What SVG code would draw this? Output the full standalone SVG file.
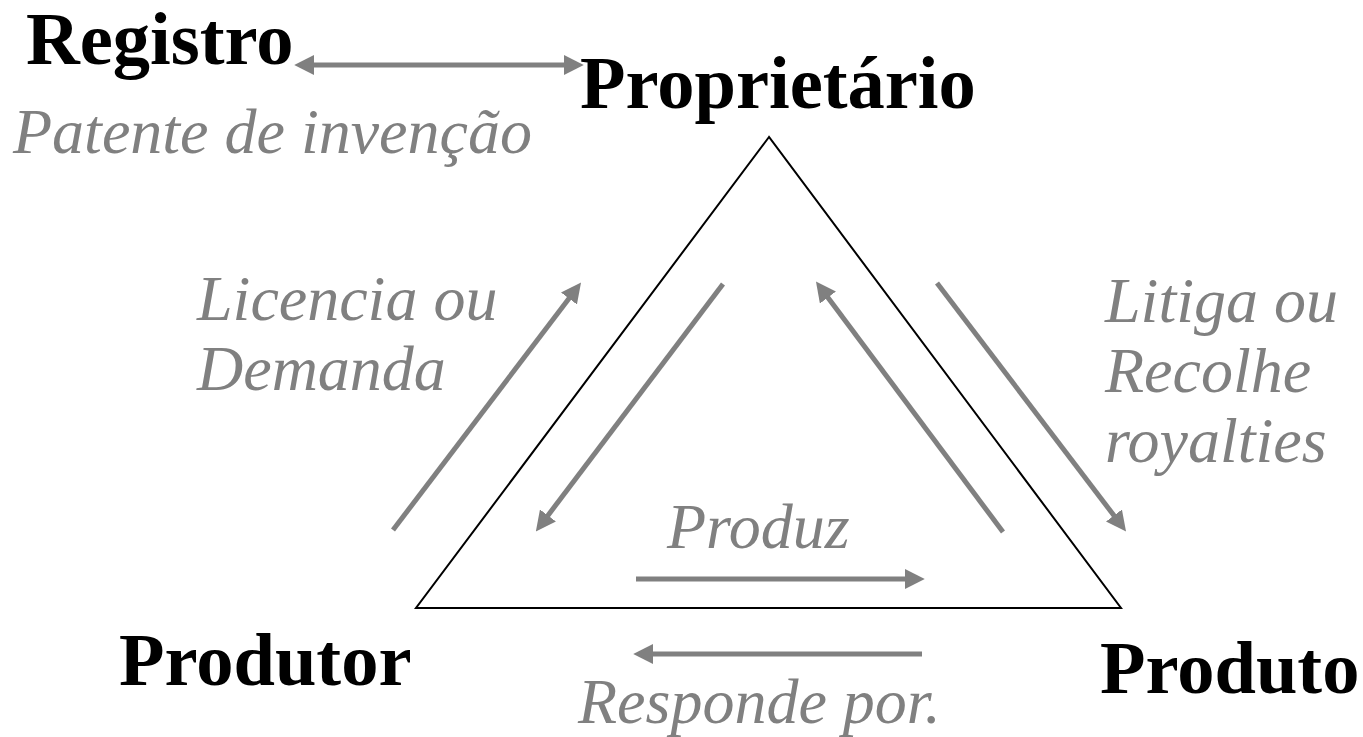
<svg xmlns="http://www.w3.org/2000/svg" width="1363" height="737" viewBox="0 0 1363 737">
  <style>
    .node { font-family: "Liberation Serif", "Times New Roman", serif; font-weight: bold; font-size: 74.5px; fill: #000; }
    .lbl { font-family: "Liberation Serif", "Times New Roman", serif; font-style: italic; font-size: 64px; fill: #808080; }
    .conn { stroke: #808080; stroke-width: 5; fill: none; }
  </style>
  <defs>
    <marker id="ah" markerUnits="userSpaceOnUse" markerWidth="20" markerHeight="20" refX="2" refY="9" orient="auto-start-reverse" viewBox="0 0 18 18">
      <path d="M0,0 L18,9 L0,18 Z" fill="#808080"/>
    </marker>
  </defs>
  <rect width="1363" height="737" fill="#fff"/>
  <g id="triangle">
    <polygon points="769,137 416,608 1121,608" fill="none" stroke="#000" stroke-width="2"/>
  </g>
  <g id="registro"><text class="node" x="26" y="64">Registro</text></g>
  <g id="patente"><text class="lbl" x="13" y="153">Patente de invenção</text></g>
  <g id="proprietario"><text class="node" x="580" y="108">Proprietário</text></g>
  <g id="produtor"><text class="node" x="119" y="685">Produtor</text></g>
  <g id="produto"><text class="node" x="1100" y="693">Produto</text></g>
  <g id="labels">
    <text class="lbl" x="197" y="320">Licencia ou</text>
    <text class="lbl" x="197" y="390">Demanda</text>
    <text class="lbl" x="1105" y="322">Litiga ou</text>
    <text class="lbl" x="1105" y="392">Recolhe</text>
    <text class="lbl" x="1105" y="462">royalties</text>
    <text class="lbl" x="667" y="548">Produz</text>
    <text class="lbl" x="578" y="723">Responde por.</text>
  </g>
  <g id="connectors">
    <line class="conn" x1="312" y1="65" x2="566" y2="65" marker-start="url(#ah)" marker-end="url(#ah)"/>
    <line class="conn" x1="636" y1="579" x2="907" y2="579" marker-end="url(#ah)"/>
    <line class="conn" x1="922" y1="654" x2="651" y2="654" marker-end="url(#ah)"/>
    <line class="conn" x1="393" y1="530" x2="570.3" y2="296.7" marker-end="url(#ah)"/>
    <line class="conn" x1="723" y1="284" x2="546.6" y2="517.2" marker-end="url(#ah)"/>
    <line class="conn" x1="1003" y1="532" x2="826.6" y2="295.8" marker-end="url(#ah)"/>
    <line class="conn" x1="937" y1="283" x2="1115.3" y2="517.3" marker-end="url(#ah)"/>
  </g>
</svg>
